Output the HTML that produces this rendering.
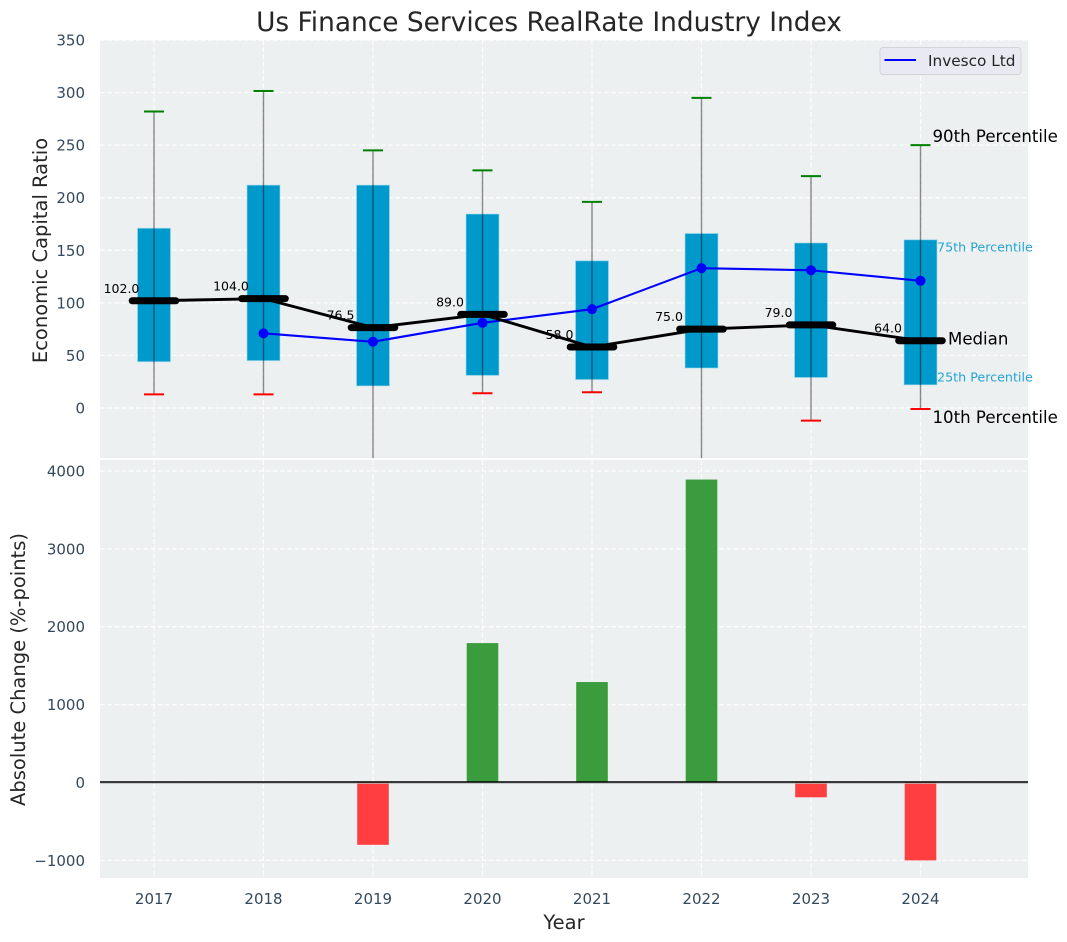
<!DOCTYPE html>
<html lang="en">
<head>
<meta charset="utf-8">
<title>Us Finance Services RealRate Industry Index</title>
<style>
html,body{margin:0;padding:0;background:#fff;}
svg{display:block;font-family:"DejaVu Sans","Liberation Sans",sans-serif;}
.tick{font-size:15px;fill:#34495e;}
.axis-title{font-size:19.500px;fill:#262626;}
</style>
</head>
<body>
<svg id="chart" xmlns="http://www.w3.org/2000/svg" width="1067" height="942" viewBox="0 0 1067 942">
  <defs>
    <clipPath id="top-clip"><rect x="100" y="40" width="928" height="418"></rect></clipPath>
  </defs>
  <rect x="100" y="40" width="928" height="418" fill="#ecf0f1"></rect>
  <rect x="100" y="460" width="928" height="418" fill="#ecf0f1"></rect>
  <g id="grid"></g>
  <g id="axis-labels"></g>
  <g id="top-marks" clip-path="url(#top-clip)"></g>
  <g id="value-labels"></g>
  <g id="bottom-marks"></g>
  <g id="annotations"></g>
  <text x="549" y="31" text-anchor="middle" font-size="26.400px" fill="#262626">Us Finance Services RealRate Industry Index</text>
  <text class="axis-title" transform="translate(47,250.500) rotate(-90)" text-anchor="middle">Economic Capital Ratio</text>
  <text class="axis-title" transform="translate(25,669.500) rotate(-90)" text-anchor="middle">Absolute Change (%-points)</text>
  <text class="axis-title" x="564" y="929" text-anchor="middle">Year</text>
  <g>
    <rect x="880" y="47.500" width="141" height="27" rx="3" fill="#e9eaf1" stroke="#d3d4d9"></rect>
    <line x1="884.500" x2="916" y1="60" y2="60" stroke="#0000ff" stroke-width="2"></line>
    <text x="928" y="66" font-size="15.300px" fill="#262626">Invesco Ltd</text>
  </g>
</svg>
<script>
const years = [2017, 2018, 2019, 2020, 2021, 2022, 2023, 2024];
const p90 = [282, 301.5, 245, 226, 196, 295, 220.5, 250];
const p75 = [171, 212, 212, 184.5, 140, 166, 157, 160];
const medians = [102, 104, 76.5, 89, 58, 75, 79, 64];
const p25 = [44, 45, 21, 31, 27, 38, 29, 22];
const p10 = [13, 13, -60, 14, 15, -60, -12, -1];
const invesco = [null, 71, 63, 81, 94, 133, 131, 121];
const changes = [null, null, -800, 1790, 1290, 3890, -190, -1000];
const topTicks = [0, 50, 100, 150, 200, 250, 300, 350];
const bottomTicks = [-1000, 0, 1000, 2000, 3000, 4000];

const NS = 'http://www.w3.org/2000/svg';
const xScale = function (year) { return 154 + (year - 2017) * 109.5; };
const yTop = function (v) { return 408 - v * (368 / 350); };
const yBottom = function (v) { return 782.5 - v * 0.07788; };

function node(tag, parent, props) {
  const el = document.createElementNS(NS, tag);
  Object.keys(props).forEach(function (k) { el.setAttribute(k, props[k]); });
  parent.appendChild(el);
  return el;
}

const grid = document.getElementById('grid');
const labels = document.getElementById('axis-labels');
const topMarks = document.getElementById('top-marks');
const valueLabels = document.getElementById('value-labels');
const bottomMarks = document.getElementById('bottom-marks');
const annotations = document.getElementById('annotations');
const gridStyle = { stroke: '#ffffff', 'stroke-width': 1.2, 'stroke-dasharray': '5 2.2', opacity: 0.9 };

years.forEach(function (year) {
  const x = xScale(year);
  const gridTop = node('line', grid, Object.assign({ x1: x, x2: x, y1: 40, y2: 458 }, gridStyle));
  
  
  const gridBottom = node('line', grid, Object.assign({ x1: x, x2: x, y1: 460, y2: 878 }, gridStyle));
  
  
  const tick = node('text', labels, { x: x, y: 904, 'text-anchor': 'middle', class: 'tick' });
  
  
  tick.textContent = String(year);
});

topTicks.forEach(function (v) {
  const y = yTop(v);
  const line = node('line', grid, Object.assign({ x1: 100, x2: 1028, y1: y, y2: y }, gridStyle));
  
  
  const tick = node('text', labels, { x: 85, y: y + 5.5, 'text-anchor': 'end', class: 'tick' });
  
  
  tick.textContent = String(v);
});

bottomTicks.forEach(function (v) {
  const y = yBottom(v);
  const line = node('line', grid, Object.assign({ x1: 100, x2: 1028, y1: y, y2: y }, gridStyle));
  
  
  const tick = node('text', labels, { x: 85, y: y + 5.5, 'text-anchor': 'end', class: 'tick' });
  
  
  tick.textContent = String(v).replace('-', '\u2212');
});

years.forEach(function (year, i) {
  const x = xScale(year);
  const box = node('rect', topMarks, {
    x: x - 16.5, y: yTop(p75[i]), width: 33, height: yTop(p25[i]) - yTop(p75[i]),
    fill: '#0099cc', stroke: '#a8dcee', 'stroke-opacity': 0.6, 'stroke-width': 1
  });
  
  
  const whisker = node('line', topMarks, {
    x1: x, x2: x, y1: yTop(p90[i]), y2: yTop(p10[i]),
    stroke: '#000000', 'stroke-opacity': 0.45, 'stroke-width': 1.4
  });
  
  
  const capHigh = node('line', topMarks, {
    x1: x - 10, x2: x + 10, y1: yTop(p90[i]), y2: yTop(p90[i]), stroke: '#008000', 'stroke-width': 2
  });
  
  
  const capLow = node('line', topMarks, {
    x1: x - 10, x2: x + 10, y1: yTop(p10[i]), y2: yTop(p10[i]), stroke: '#ff0000', 'stroke-width': 2
  });
  
  
  const valueLabel = node('text', valueLabels, {
    x: x - 32.5, y: yTop(medians[i]) - 8, 'text-anchor': 'middle', 'font-size': '12.500px', fill: '#000000'
  });
  
  
  valueLabel.textContent = medians[i].toFixed(1);
});

const invescoPoints = [];
years.forEach(function (year, i) {
  if (invesco[i] !== null) {
    invescoPoints.push(xScale(year) + ',' + yTop(invesco[i]));
  }
});
const invescoLine = node('polyline', topMarks, {
  points: invescoPoints.join(' '), fill: 'none', stroke: '#0000ff', 'stroke-width': 2.1
});


years.forEach(function (year, i) {
  if (invesco[i] !== null) {
    const dot = node('circle', topMarks, { cx: xScale(year), cy: yTop(invesco[i]), r: 5, fill: '#0000ff' });
    
    
  }
});

const medianPoints = years.map(function (year, i) {
  return xScale(year) + ',' + yTop(medians[i]);
});
const medianLine = node('polyline', document.getElementById('chart'), {
  points: medianPoints.join(' '), fill: 'none', stroke: '#000000', 'stroke-width': 2.9
});


years.forEach(function (year, i) {
  const x = xScale(year);
  const bar = node('line', document.getElementById('chart'), {
    x1: x - 21.8, x2: x + 21.8, y1: yTop(medians[i]), y2: yTop(medians[i]),
    stroke: '#000000', 'stroke-width': 7, 'stroke-linecap': 'round'
  });
  
  
});

years.forEach(function (year, i) {
  if (changes[i] !== null) {
    const v = changes[i];
    const bar = node('rect', bottomMarks, {
      x: xScale(year) - 15.8, width: 31.6,
      y: Math.min(yBottom(v), yBottom(0)), height: Math.abs(yBottom(v) - yBottom(0)),
      fill: v >= 0 ? '#3b9c3d' : '#ff3e40'
    });
    
    
  }
});
const zeroShadow = node('line', bottomMarks, { x1: 100, x2: 1028, y1: yBottom(0) + 0.8, y2: yBottom(0) + 0.8, stroke: '#b9bcbd', 'stroke-width': 1 });


const zeroLine = node('line', bottomMarks, { x1: 100, x2: 1028, y1: yBottom(0) - 0.5, y2: yBottom(0) - 0.5, stroke: '#000000', 'stroke-width': 1.5 });



const last = years.length - 1;
const lastX = xScale(years[last]);
const noteP90 = node('text', annotations, { x: lastX + 12, y: yTop(p90[last]) - 3.3, 'font-size': '16.600px', fill: '#000000' });


noteP90.textContent = '90th Percentile';
const noteP75 = node('text', annotations, { x: lastX + 16.5, y: yTop(p75[last]) + 11.5, 'font-size': '12.700px', fill: '#25a4d3' });


noteP75.textContent = '75th Percentile';
const noteMedian = node('text', annotations, { x: lastX + 27.5, y: yTop(medians[last]) + 3.6, 'font-size': '16.600px', fill: '#000000' });


noteMedian.textContent = 'Median';
const noteP25 = node('text', annotations, { x: lastX + 16.5, y: yTop(p25[last]) - 3.2, 'font-size': '12.700px', fill: '#25a4d3' });


noteP25.textContent = '25th Percentile';
const noteP10 = node('text', annotations, { x: lastX + 12, y: yTop(p10[last]) + 13.7, 'font-size': '16.600px', fill: '#000000' });


noteP10.textContent = '10th Percentile';
</script>
</body>
</html>
